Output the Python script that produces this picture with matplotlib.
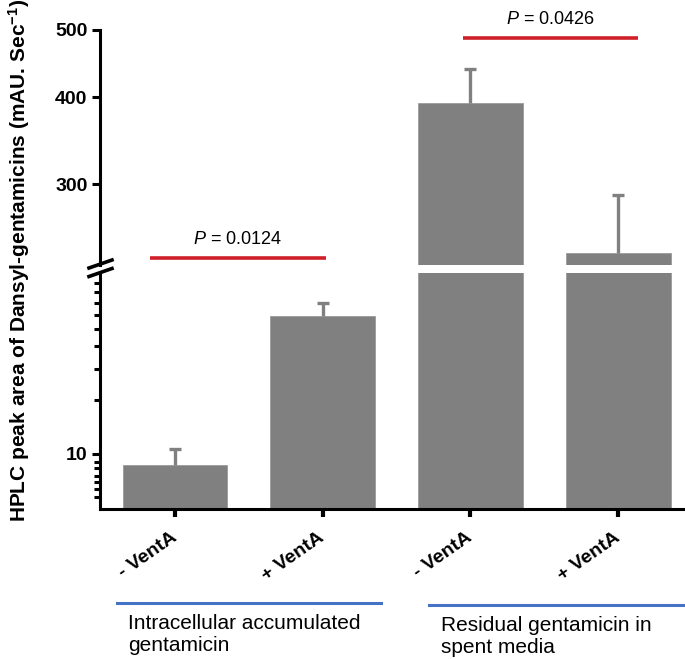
import matplotlib.pyplot as plt
from matplotlib.lines import Line2D
import numpy as np

plt.rcParams['font.family'] = ['Liberation Sans', 'DejaVu Sans']
plt.rcParams['mathtext.fontset'] = 'custom'
plt.rcParams['mathtext.rm'] = 'Liberation Sans'
plt.rcParams['mathtext.it'] = 'Liberation Sans:italic'
plt.rcParams['mathtext.bf'] = 'Liberation Sans:bold'

# data
labels = ['- VentA', '+ VentA', '- VentA', '+ VentA']
means = [8.7, 59.0, 392, 239]
err_up = [1.96, 10.8, 47, 50]
groups = ['Intracellular accumulated\ngentamicin', 'Residual gentamicin in\nspent media']
pvals = ['0.0124', '0.0426']
p_spans = [(-0.17, 1.02), (1.95, 3.135)]
p_level = [235, 487]

grey = '#808080'
red = '#D0202A'
blue = '#4472C4'
W, H = 685, 659


def fx(px):
    return px / W


def fy(py):
    return 1 - py / H


fig = plt.figure(figsize=(W / 100, H / 100), dpi=100)
ax_top = fig.add_axes([fx(100), fy(265), fx(585), 235 / H])
ax_bot = fig.add_axes([fx(100), fy(508.5), fx(585), 235.5 / H])

x = np.arange(len(means))
for ax in (ax_top, ax_bot):
    ax.set_yscale('log')
    ax.bar(x, means, width=0.71, color=grey, edgecolor='#9a9a9a', linewidth=0.6)
    _, caps, _ = ax.errorbar(x, means, yerr=[np.zeros(len(means)), err_up], fmt='none',
                             ecolor=grey, elinewidth=2.4, capsize=4.3, capthick=2.4)
    caps[0].set_visible(False)  # only the upper cap is drawn
    ax.set_xlim(-0.508, 3.453)
    for s in ('top', 'right'):
        ax.spines[s].set_visible(False)
    ax.spines['left'].set_linewidth(2.2)
    ax.spines['bottom'].set_linewidth(2.2)

ax_top.set_ylim(229.5, 500)
ax_bot.set_ylim(4.96, 102.6)

ax_top.spines['bottom'].set_visible(False)
ax_top.set_xticks([])
ax_top.set_yticks([300, 400, 500], labels=['300', '400', '500'])
ax_top.set_yticks([], minor=True)
ax_top.tick_params(axis='y', length=6, width=2.2, labelsize=14, pad=3)

ax_bot.set_yticks([10], labels=['10'])
ax_bot.set_yticks([5.75, 6.35, 6.95, 7.55, 8.3, 9, 20, 30, 40, 50, 60, 70, 80, 90],
                  labels=[], minor=True)
ax_bot.tick_params(axis='y', which='major', length=6, width=2.2, labelsize=14, pad=3)
ax_bot.tick_params(axis='y', which='minor', length=4, width=2.2)
ax_bot.set_xticks(x)
ax_bot.set_xticklabels(labels, rotation=35, ha='right', va='center',
                       rotation_mode='anchor', fontweight='bold', fontsize=14)
ax_bot.tick_params(axis='x', length=6, width=3, pad=14)

for ax in (ax_top, ax_bot):
    for t in ax.get_yticklabels():
        t.set_fontweight('bold')

# significance bars
for (x0, x1), lv, pv in zip(p_spans, p_level, pvals):
    ax_top.plot([x0, x1], [lv, lv], color=red, lw=2.6, clip_on=False,
                solid_capstyle='butt')
    ax_top.annotate(r'$\it{P}$ = ' + pv, xy=((x0 + x1) / 2, lv),
                    xytext=(0, 13.5), textcoords='offset points',
                    ha='center', va='center', fontsize=13, annotation_clip=False)

# axis break marks
for dy in (0, 8.5):
    fig.add_artist(Line2D([fx(89), fx(112)], [fy(268 + dy), fy(260 + dy)],
                          color='black', lw=2.6))

fig.text(fx(19), fy(260), 'HPLC peak area of Dansyl-gentamicins (mAU. Sec$\\mathbf{^{-1}}$)',
         rotation=90, ha='center', va='center', fontsize=15, fontweight='bold')

# group annotations
fig.add_artist(Line2D([fx(117), fx(381)], [fy(603), fy(603)], color=blue, lw=2.2))
fig.add_artist(Line2D([fx(429), fx(685)], [fy(605), fy(605)], color=blue, lw=2.2))
fig.text(fx(128), fy(614), groups[0], ha='left', va='top', fontsize=15)
fig.text(fx(441), fy(616), groups[1], ha='left', va='top', fontsize=15)

fig.savefig('out.png', dpi=100)
